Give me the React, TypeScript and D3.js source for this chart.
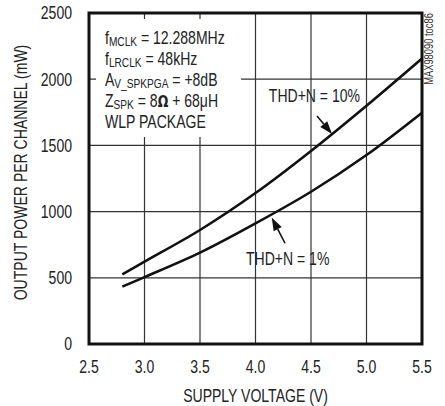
import React from "react";
import * as d3 from "d3";

const voltage = [2.8, 3.0, 3.5, 4.0, 4.5, 5.0, 5.5];
const thd10 = [526, 622, 861, 1140, 1458, 1800, 2157];
const thd1 = [433, 505, 690, 911, 1150, 1427, 1747];
const xTicks = [2.5, 3.0, 3.5, 4.0, 4.5, 5.0, 5.5];
const yTicks = [0, 500, 1000, 1500, 2000, 2500];
const conditionLines = [
  { main: "f", sub: "MCLK", rest: " = 12.288MHz" },
  { main: "f", sub: "LRCLK", rest: " = 48kHz" },
  { main: "A", sub: "V_SPKPGA", rest: " = +8dB" },
  { main: "Z", sub: "SPK", rest: " = 8", omega: true, after: " + 68\u03bcH" },
  { main: "WLP PACKAGE", sub: "", rest: "" },
];

const W = 445;
const H = 406;
const FONT = "'Liberation Sans', Arial, sans-serif";
const SX = 0.78;

function NT(props: {
  x: number;
  y: number;
  rot?: number;
  size?: number;
  anchor?: string;
  dy?: string;
  fill?: string;
  children: React.ReactNode;
}) {
  const { x, y, rot = 0, size = 18, anchor = "start", dy, fill = "#222", children } = props;
  return (
    <g transform={`translate(${x},${y}) rotate(${rot}) scale(${SX},1)`}>
      <text x={0} y={0} dy={dy} fontSize={size} textAnchor={anchor} fill={fill}>
        {children}
      </text>
    </g>
  );
}

export default function App() {
  const x = d3.scaleLinear().domain([2.5, 5.5]).range([89, 422]);
  const y = d3.scaleLinear().domain([0, 2500]).range([344, 13]);
  const line = d3
    .line<number>()
    .x((_, i) => x(voltage[i]))
    .y((d) => y(d))
    .curve(d3.curveCatmullRom.alpha(0.5));

  const arrow = (x1: number, y1: number, x2: number, y2: number) => {
    const px1 = x(x1), py1 = y(y1), px2 = x(x2), py2 = y(y2);
    const ang = Math.atan2(py2 - py1, px2 - px1);
    const len = 13, half = 4.5;
    const bx = px2 - len * Math.cos(ang), by = py2 - len * Math.sin(ang);
    const nx = -Math.sin(ang), ny = Math.cos(ang);
    return (
      <g>
        <line x1={px1} y1={py1} x2={bx} y2={by} stroke="#111" strokeWidth={1.6} />
        <path
          d={`M${px2},${py2}L${bx + nx * half},${by + ny * half}L${bx - nx * half},${by - ny * half}Z`}
          fill="#111"
        />
      </g>
    );
  };

  return (
    <svg
      width={W}
      height={H}
      style={{ position: "absolute", left: 0, top: 0, background: "#fff" }}
      fontFamily={FONT}
    >
      <rect x={0} y={0} width={W} height={H} fill="#fff" />
      {/* grid */}
      {xTicks.slice(1, -1).map((t) => (
        <line key={"gx" + t} x1={x(t)} x2={x(t)} y1={y(0)} y2={y(2500)} stroke="#333" strokeWidth={1.2} />
      ))}
      {yTicks.slice(1, -1).map((t) => (
        <line key={"gy" + t} x1={x(2.5)} x2={x(5.5)} y1={y(t)} y2={y(t)} stroke="#333" strokeWidth={1.2} />
      ))}
      {/* condition box background */}
      <rect x={96} y={19} width={145} height={118} fill="#fff" />
      {conditionLines.map((l, i) => (
        <NT key={i} x={105} y={43.5 + i * 21.2}>
          {l.main}
          {l.sub && (
            <tspan fontSize={13} dy={2}>
              {l.sub}
            </tspan>
          )}
          {l.rest && <tspan dy={l.sub ? -2 : 0}>{l.rest}</tspan>}
          {l.omega && (
            <tspan fontFamily="'DejaVu Sans', sans-serif" fontWeight="bold" fontSize={16}>
              {"\u03a9"}
            </tspan>
          )}
          {l.after && <tspan>{l.after}</tspan>}
        </NT>
      ))}
      {/* curves */}
      <path d={line(thd10) || ""} fill="none" stroke="#111" strokeWidth={2.6} />
      <path d={line(thd1) || ""} fill="none" stroke="#111" strokeWidth={2.6} />
      {/* frame */}
      <rect x={x(2.5)} y={y(2500)} width={x(5.5) - x(2.5)} height={y(0) - y(2500)} fill="none" stroke="#111" strokeWidth={3} />
      {/* annotations */}
      <NT x={x(4.12)} y={y(1830)}>THD+N = 10%</NT>
      {arrow(4.554, 1722, 4.69, 1586)}
      <NT x={x(3.914)} y={y(597)}>THD+N = 1%</NT>
      {arrow(4.266, 761, 4.146, 955)}
      {/* y tick labels */}
      {yTicks.map((t) => (
        <NT key={"yl" + t} x={72} y={y(t)} dy="0.36em" anchor="end">
          {t}
        </NT>
      ))}
      {/* x tick labels */}
      {xTicks.map((t) => (
        <NT key={"xl" + t} x={x(t)} y={373} anchor="middle">
          {t.toFixed(1)}
        </NT>
      ))}
      <NT x={(x(2.5) + x(5.5)) / 2} y={401.5} anchor="middle">
        SUPPLY VOLTAGE (V)
      </NT>
      <NT x={27} y={(y(0) + y(2500)) / 2 - 6} rot={-90} anchor="middle">
        OUTPUT POWER PER CHANNEL (mW)
      </NT>
      <NT x={433} y={49} rot={-90} anchor="middle" size={12} fill="#333">
        MAX98090 toc86
      </NT>
    </svg>
  );
}
